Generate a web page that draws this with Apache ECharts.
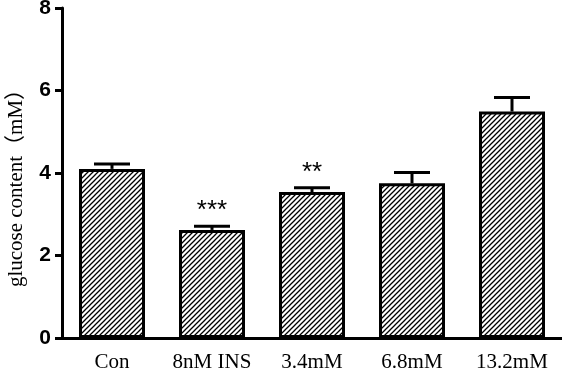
<!DOCTYPE html>
<html><head><meta charset="utf-8">
<script src="https://cdn.jsdelivr.net/npm/echarts@6/dist/echarts.min.js"></script>
<style>html,body{margin:0;padding:0;background:#fff}#c{width:562px;height:373px}</style>
</head><body><div id="c"></div>
<script>
var categories = ['Con', '8nM INS', '3.4mM', '6.8mM', '13.2mM'];
var means = [4.10, 2.62, 3.54, 3.75, 5.49];
var errors = [0.12, 0.09, 0.10, 0.26, 0.34];
var marks = ['', '***', '**', '', ''];
var yTicks = [0, 2, 4, 6, 8];
var yTitle = 'glucose content（mM）';

var T = 5;
var tile = document.createElement('canvas');
tile.width = T; tile.height = T;
var g = tile.getContext('2d');
g.fillStyle = '#fff'; g.fillRect(0, 0, T, T);
g.strokeStyle = '#000'; g.lineWidth = 1.3;
g.beginPath();
g.moveTo(-1, T + 1); g.lineTo(T + 1, -1);
g.moveTo(-1, 1); g.lineTo(1, -1);
g.moveTo(T - 1, T + 1); g.lineTo(T + 1, T - 1);
g.stroke();

var chart = echarts.init(document.getElementById('c'));
var errData = categories.map(function (c, i) { return [i, means[i], means[i] + errors[i]]; });
chart.setOption({
  animation: false,
  grid: { left: 62, right: 0, top: 8, bottom: 35, outerBoundsMode: 'none', containLabel: false },
  graphic: [{
    type: 'text', x: 16, y: 183, rotation: Math.PI / 2,
    style: { text: yTitle, textAlign: 'center', textVerticalAlign: 'middle', font: '21px "Liberation Serif", "Noto Sans CJK SC"', fill: '#000' }
  }],
  xAxis: {
    type: 'category', data: categories,
    axisLine: { lineStyle: { color: '#000', width: 3 } },
    axisTick: { alignWithLabel: true, length: 8, lineStyle: { color: '#000', width: 3 } },
    axisLabel: { interval: 0, color: '#000', fontFamily: 'Liberation Serif', fontSize: 21, margin: 14 }
  },
  yAxis: {
    type: 'value', min: yTicks[0], max: yTicks[yTicks.length - 1], interval: 2,
    splitLine: { show: false },
    axisLine: { show: true, lineStyle: { color: '#000', width: 3 } },
    axisTick: { show: true, length: 7, lineStyle: { color: '#000', width: 3 } },
    axisLabel: { color: '#000', fontFamily: 'Liberation Sans', fontWeight: 'bold', fontSize: 21, margin: 11, padding: [5, 0, 0, 0] }
  },
  series: [
    {
      type: 'custom', z: 1,
      renderItem: function (params, api) {
        var i = api.value(0);
        var base = api.coord([i, api.value(1)]);
        var top = api.coord([i, api.value(2)]);
        var children = [
          { type: 'line', shape: { x1: base[0], y1: base[1], x2: top[0], y2: top[1] }, style: { stroke: '#000', lineWidth: 3 } },
          { type: 'line', shape: { x1: top[0] - 18, y1: top[1], x2: top[0] + 18, y2: top[1] }, style: { stroke: '#000', lineWidth: 3 } }
        ];
        var m = marks[params.dataIndex];
        if (m) {
          children.push({ type: 'text', style: { text: m, x: top[0], y: top[1] - 2, textAlign: 'center', textVerticalAlign: 'bottom', font: '26px "Liberation Sans"', fill: '#000' } });
        }
        return { type: 'group', children: children };
      },
      data: errData
    },
    {
      type: 'bar', z: 2, data: means, barWidth: 66,
      itemStyle: { color: { image: tile, repeat: 'repeat' }, borderColor: '#000', borderWidth: 3 }
    }
  ]
});
</script></body></html>
